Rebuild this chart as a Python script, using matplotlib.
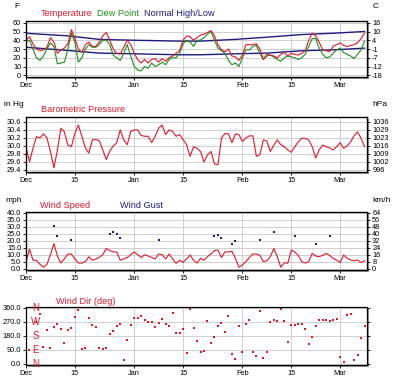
import matplotlib
matplotlib.use("Agg")
import matplotlib.pyplot as plt
from matplotlib.patches import Rectangle

plt.rcParams['font.family'] = ['Liberation Sans', 'DejaVu Sans']

# x axis = days since Dec 1
month_ticks = [0, 14, 31, 45, 62, 76, 90]
month_labels = ['Dec', '15', 'Jan', '15', 'Feb', '15', 'Mar']

# temperature panel (F), one value per day
temp_f = [40, 44, 36, 30, 28, 29, 32, 43, 38, 25, 29, 31, 36, 52, 42, 30, 26, 35, 38, 33,
          33, 38, 45, 49, 40, 30, 25, 24, 32, 40, 35, 25, 18, 14, 18, 14, 18, 19, 15, 19,
          16, 20, 22, 25, 28, 40, 45, 44, 40, 43, 46, 47, 49, 51, 45, 35, 29, 27, 30, 22,
          21, 17, 23, 35, 35, 35, 36, 30, 18, 24, 23, 22, 20, 24, 26, 22, 25, 24, 23, 25,
          28, 40, 48, 45, 38, 29, 28, 27, 33, 35, 37, 34, 33, 34, 35, 37, 42, 48]
dew_f = [38, 40, 30, 20, 17, 22, 30, 37, 33, 13, 14, 15, 30, 48, 38, 15, 20, 30, 35, 32,
         32, 35, 40, 40, 35, 23, 20, 17, 25, 35, 22, 10, 6, 5, 10, 8, 14, 10, 12, 15,
         12, 18, 20, 20, 25, 36, 40, 38, 33, 40, 40, 43, 47, 50, 40, 31, 28, 25, 17, 12,
         14, 10, 20, 29, 29, 33, 34, 25, 18, 22, 23, 21, 18, 16, 20, 22, 21, 20, 18, 20,
         24, 33, 42, 42, 31, 24, 20, 21, 25, 29, 31, 26, 24, 22, 19, 24, 29, 39]
normal_days = [0, 12, 21, 31, 44, 50, 60, 69, 79, 88, 97]
normal_high = [48, 45, 41, 40, 39, 39, 41, 43.5, 46.5, 48, 50]
normal_low = [32, 28.3, 25.3, 24.5, 23.4, 23.4, 24.5, 25.3, 28, 29, 31]
temp_ticks = [0, 10, 20, 30, 40, 50, 60]
temp_c_labels = ['-18', '-12', '-7', '-1', '4', '10', '16']

# pressure panel (inHg)
press_inhg = [29.98, 29.60, 29.94, 30.23, 30.20, 30.30, 30.20, 29.86, 29.45, 29.90,
              30.44, 30.35, 30.02, 29.98, 30.31, 30.52, 30.24, 29.95, 29.82, 30.15,
              30.16, 30.13, 29.90, 29.66, 29.87, 30.00, 30.08, 30.40, 30.15, 30.03,
              30.36, 30.40, 30.40, 30.26, 30.24, 30.24, 30.08, 30.24, 30.44, 30.52,
              30.28, 30.40, 30.36, 30.24, 30.28, 30.16, 30.03, 29.74, 29.98, 29.94,
              29.86, 29.60, 29.78, 29.86, 29.55, 29.53, 30.19, 30.31, 30.30, 30.08,
              30.30, 30.28, 30.11, 30.20, 30.25, 30.25, 29.74, 29.78, 30.15, 30.12,
              29.86, 30.02, 30.15, 30.03, 29.98, 29.90, 29.84, 29.98, 30.10, 30.19,
              30.19, 30.15, 29.98, 29.70, 29.90, 30.02, 29.98, 29.95, 29.90, 29.98,
              30.08, 29.94, 30.00, 30.10, 30.25, 30.35, 30.19, 29.98]
press_ticks = [29.4, 29.6, 29.8, 30.0, 30.2, 30.4, 30.6]
press_hpa_labels = ['996', '1002', '1009', '1016', '1023', '1029', '1036']

# wind panel (mph)
wind_mph = [5, 14, 6, 6, 3, 1, 3, 10, 18, 9, 4, 7, 10.5, 10.5, 7, 4, 4, 5, 8.5, 6,
            7, 8, 10, 14.5, 13, 12, 12, 6, 7, 8, 10, 12, 10, 8, 10, 9, 8, 7, 10.5, 10,
            7, 10.5, 7, 3.8, 6, 4.5, 7, 9.8, 6, 4, 7.4, 6, 8.6, 10.5, 13, 13.3, 8, 12, 12, 12.4,
            7.4, 1, 2.6, 5, 8, 10.5, 10.5, 9.5, 5, 5.7, 8.6, 14.5, 8.6, 1, 4.3, 3.8, 13.3, 12, 9.5, 5,
            4, 5, 11, 9, 8.6, 9.5, 11, 9.5, 7.4, 6, 4.3, 9.8, 7.4, 6.2, 5.7, 6.2, 4.3, 5.7]
gust_days = [8, 9, 13, 24, 25, 26, 27, 38, 54, 55, 56, 59, 60, 67, 71, 77, 83, 87]
gust_mph = [30.7, 23.6, 20.5, 25, 26.2, 24.8, 22.1, 20.5, 23.3, 24, 22.1, 18, 20, 20.5,
            26, 23.3, 18, 23.3]
wind_ticks = [0, 5, 10, 15, 20, 25, 30, 35, 40]
wind_kmh_labels = ['0', '8', '16', '24', '32', '40', '48', '56', '64']

# wind direction panel (deg)
dir_days = [1, 3, 4, 5, 6, 7, 8, 9, 10, 11, 12, 13, 14, 15, 16, 17, 18, 19, 20, 21,
            22, 23, 24, 25, 26, 27, 28, 29, 30, 31, 32, 33, 34, 35, 36, 37, 38, 39, 40, 41,
            42, 43, 44, 45, 46, 47, 48, 49, 50, 51, 52, 53, 54, 55, 56, 57, 58, 59, 60, 61,
            62, 63, 64, 65, 66, 67, 68, 69, 70, 71, 72, 73, 74, 75, 76, 77, 78, 79, 80, 81,
            82, 83, 84, 85, 86, 87, 88, 89, 90, 91, 92, 93, 94, 95, 96, 97]
dir_deg = [86, 266, 324, 105, 219, 103, 238, 253, 223, 131, 219, 231, 302, 345, 94, 99, 298, 249, 238, 99,
           92, 99, 191, 212, 242, 259, 21, 156, 249, 296, 296, 309, 281, 270, 266, 238, 264, 291, 253, 244,
           328, 199, 199, 227, 66, 351, 231, 146, 77, 84, 274, 131, 174, 242, 264, 206, 306, 60, 28, 242,
           73, 259, 285, 73, 49, 339, 34, 73, 270, 281, 274, 351, 274, 141, 249, 249, 253, 259, 227, 124,
           174, 242, 281, 281, 281, 276, 281, 291, 45, 13, 317, 321, 24, 56, 163, 242]
dir_ticks = [0, 90, 180, 270, 360]
compass = ['N', 'E', 'S', 'W', 'N']

RED = '#e0182a'
GREEN = '#189018'
NAVY = '#1c1c80'
GRID = '#c8c8c8'
W, H = 400, 384
TICK_FS = 5.3
TITLE_FS = 6.6

fig = plt.figure(figsize=(W / 100, H / 100), dpi=100)


def make_panel(top, bottom, ylim, yticks, ylabels, right_labels=None):
    x0, x1 = 26, 367
    fig.add_artist(Rectangle(((x0 + 2) / W, 1 - (bottom + 2) / H), (x1 - x0) / W,
                             (bottom - top) / H, transform=fig.transFigure,
                             facecolor='#9a9a9a', edgecolor='none', zorder=-1))
    ax = fig.add_axes([x0 / W, 1 - bottom / H, (x1 - x0) / W, (bottom - top) / H])
    ax.set_facecolor('white')
    ax.set_xlim(0, 97.7)
    ax.set_ylim(*ylim)
    ax.set_xticks(month_ticks)
    ax.set_xticklabels(month_labels)
    ax.set_yticks(yticks)
    ax.set_yticklabels(ylabels)
    ax.grid(True, color=GRID, linewidth=0.6)
    ax.set_axisbelow(True)
    for s in ax.spines.values():
        s.set_linewidth(0.9)
    ax.tick_params(axis='both', labelsize=TICK_FS, length=2.2, width=0.6, pad=1.2)
    ax.tick_params(axis='y', right=True)
    if right_labels is not None:
        ax2 = ax.twinx()
        ax2.set_ylim(*ylim)
        ax2.set_yticks(yticks)
        ax2.set_yticklabels(right_labels)
        ax2.tick_params(axis='y', labelsize=TICK_FS, length=2.2, width=0.6, pad=1.5)
    return ax


def label(x, y, s, color='black', size=TITLE_FS, ha='left'):
    fig.text(x / W, 1 - y / H, s, color=color, fontsize=size, ha=ha, va='center')


# temperature
ax1 = make_panel(21, 77, (-2, 62), temp_ticks, [str(t) for t in temp_ticks], temp_c_labels)
days = list(range(len(temp_f)))
ax1.plot(normal_days, normal_high, color=NAVY, lw=1.0)
ax1.plot(normal_days, normal_low, color=NAVY, lw=1.0)
ax1.plot(days, dew_f, color=GREEN, lw=0.8)
ax1.plot(days, temp_f, color=RED, lw=0.8)
label(14, 7, 'F', size=6)
label(41, 14, 'Temperature', RED)
label(97, 14, 'Dew Point', GREEN)
label(144, 14, 'Normal High/Low', NAVY)
label(373, 7, 'C', size=6)

# pressure
ax2 = make_panel(117, 172, (29.35, 30.72), press_ticks, ['%.1f' % p for p in press_ticks],
                 press_hpa_labels)
ax2.plot(range(len(press_inhg)), press_inhg, color=RED, lw=0.8)
label(4, 104, 'in Hg', size=6)
label(41, 109, 'Barometric Pressure', RED)
label(372, 105, 'hPa', size=6)

# wind speed / gust
ax3 = make_panel(212, 270, (-1, 40.7), wind_ticks, ['%.1f' % w for w in wind_ticks],
                 wind_kmh_labels)
ax3.plot(range(len(wind_mph)), wind_mph, color=RED, lw=0.8)
ax3.plot(gust_days, gust_mph, 's', color=NAVY, markersize=1.8, markeredgewidth=0)
label(5, 200, 'mph', size=6)
label(40, 205, 'Wind Speed', RED)
label(120, 205, 'Wind Gust', NAVY)
label(372, 200, 'km/h', size=6)

# wind direction
ax4 = make_panel(307, 365, (-8.6, 366), dir_ticks, ['%.1f' % d for d in dir_ticks])
ax4.plot(dir_days, dir_deg, 's', color=RED, markersize=1.8, markeredgewidth=0)
for d, c in zip(dir_ticks, compass):
    ax4.text(2.7, d, c, color=RED, fontsize=7, ha='center', va='center')
label(56, 301, 'Wind Dir (deg)', RED)

fig.savefig('out.png', dpi=100)
